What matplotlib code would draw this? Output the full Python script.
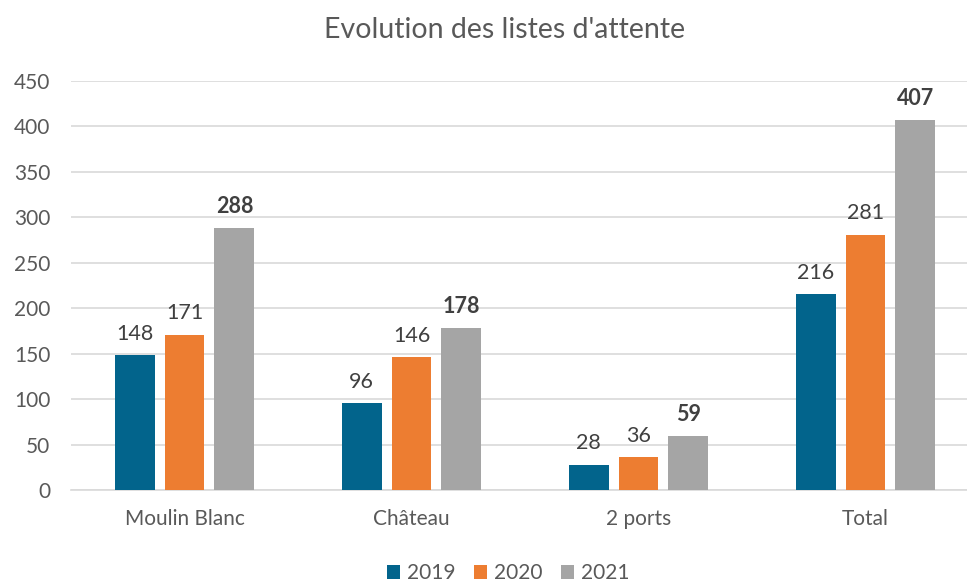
import matplotlib
matplotlib.use("Agg")
import matplotlib.pyplot as plt
import numpy as np

plt.rcParams['font.family'] = ['Lato', 'DejaVu Sans']

categories = ["Moulin Blanc", "Château", "2 ports", "Total"]
years = ["2019", "2020", "2021"]
values_2019 = [148, 96, 28, 216]
values_2020 = [171, 146, 36, 281]
values_2021 = [288, 178, 59, 407]
y_ticks = [0, 50, 100, 150, 200, 250, 300, 350, 400, 450]

series = [values_2019, values_2020, values_2021]
colors = ["#02648C", "#ED7D31", "#A5A5A5"]
label_weights = ["normal", "normal", "bold"]

fig = plt.figure(figsize=(9.67, 5.82), dpi=100)
ax = fig.add_axes([71 / 967, 92 / 582, 1 - 71 / 967, 409 / 582])

x = np.arange(len(categories))
width = 0.176
step = 0.22
for i, (vals, col, fw) in enumerate(zip(series, colors, label_weights)):
    pos = x + (i - 1) * step
    bars = ax.bar(pos, vals, width=width, color=col, label=years[i], zorder=3)
    for b, v in zip(bars, vals):
        ax.annotate(str(v), (b.get_x() + b.get_width() / 2, v),
                    xytext=(0, 8), textcoords="offset points",
                    ha="center", va="bottom", fontsize=15.5,
                    color="#404040", fontweight=fw)

ax.set_xlim(-0.5, (967 - 184.5) / 227)
ax.set_ylim(0, 450)
ax.set_yticks(y_ticks)
ax.set_xticks(x)
ax.set_xticklabels(categories)
ax.tick_params(axis="both", length=0, labelsize=15, labelcolor="#595959")
ax.tick_params(axis="y", pad=15)
ax.tick_params(axis="x", pad=14)
ax.yaxis.grid(True, color="#D9D9D9", linewidth=1.2, zorder=0)
for s in ["top", "right", "left"]:
    ax.spines[s].set_visible(False)
ax.spines["bottom"].set_color("#D9D9D9")
ax.spines["bottom"].set_linewidth(1.2)

fig.text(505 / 967, 1 - 30 / 582, "Evolution des listes d'attente",
         ha="center", va="center", fontsize=20.5, color="#595959")

fig.legend(loc="center", bbox_to_anchor=(508 / 967, 1 - 573 / 582), ncol=3,
           frameon=False, fontsize=15, labelcolor="#595959",
           handlelength=0.65, handleheight=0.65, handletextpad=0.3,
           columnspacing=0.9)

fig.savefig("out.png", dpi=100)
